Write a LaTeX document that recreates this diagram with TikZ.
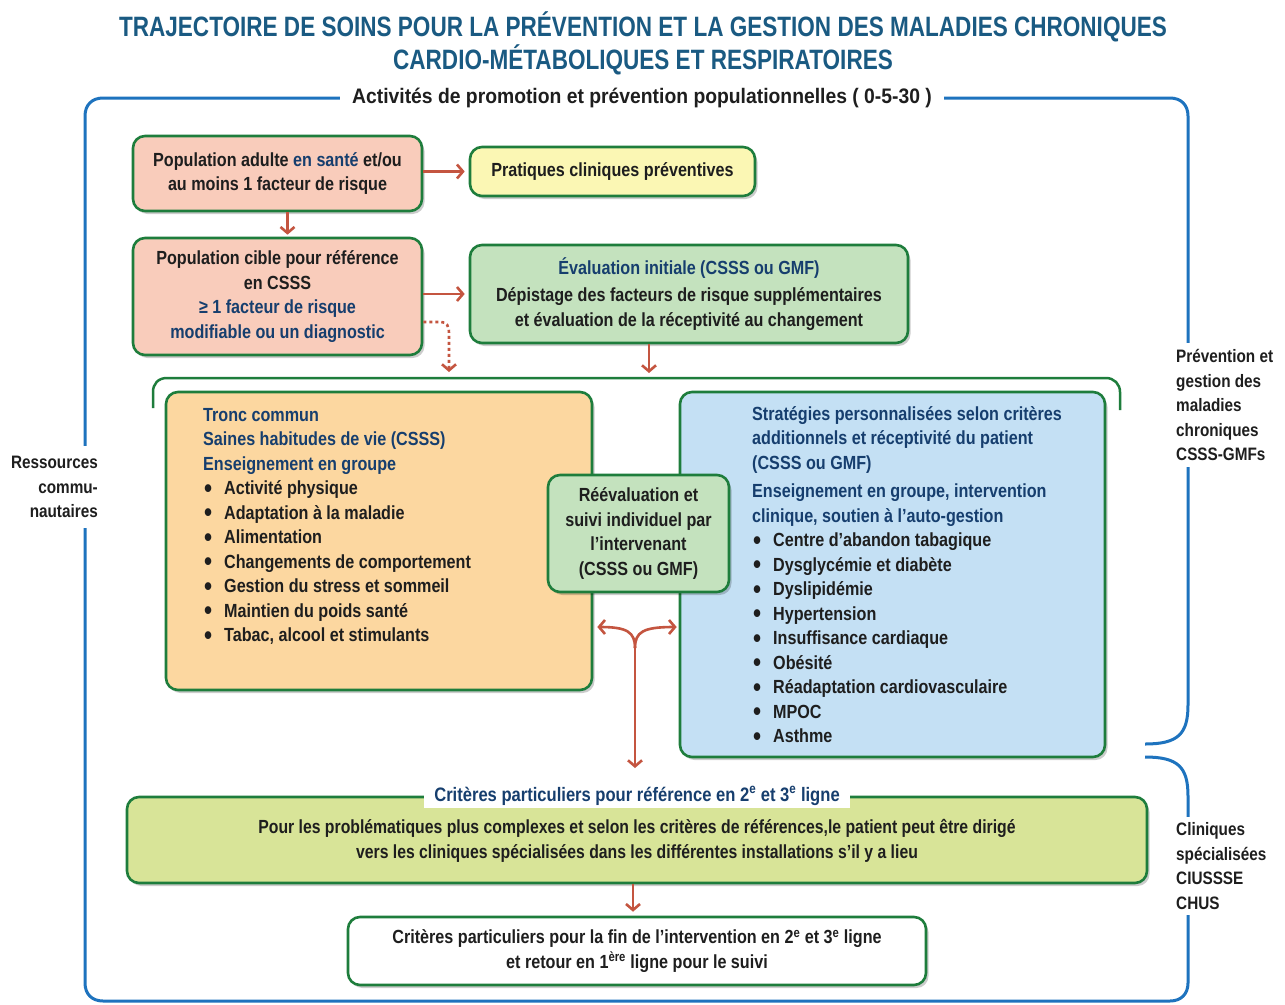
\documentclass[tikz,border=0pt]{standalone}
\usepackage{fontspec}
\setmainfont{Liberation Sans}[FakeStretch=0.85]
\newfontfamily\narrowf{Liberation Sans}[FakeStretch=0.83]
\newfontfamily\titlef{Liberation Sans}[FakeStretch=0.805]
\newfontfamily\actf{Liberation Sans}[FakeStretch=0.92]
\usetikzlibrary{arrows.meta,shadows}
\definecolor{salmon}{RGB}{249,204,187}
\definecolor{pyellow}{RGB}{251,247,180}
\definecolor{pgreen}{RGB}{196,226,190}
\definecolor{porange}{RGB}{252,215,160}
\definecolor{pblue}{RGB}{196,224,244}
\definecolor{plime}{RGB}{216,228,152}
\definecolor{gborder}{RGB}{30,125,60}
\definecolor{arrred}{RGB}{196,85,64}
\definecolor{bline}{RGB}{30,115,190}
\definecolor{tblue}{RGB}{26,90,130}
\definecolor{dblue}{RGB}{22,62,110}
\definecolor{txt}{RGB}{30,30,30}
\newcommand\boxf{\fontsize{19}{24.5}\selectfont\bfseries}
\newcommand\bul{\hspace*{1pt}\makebox[20pt][l]{\raisebox{-2.5pt}{\fontsize{27}{24}\selectfont•}}}
\begin{document}
\begin{tikzpicture}[x=1pt,y=-1pt,
  every node/.style={text=txt},
  bbox/.style={draw=gborder, line width=2.6pt, rounded corners=12pt,
    drop shadow={shadow xshift=2.5pt, shadow yshift=-3pt, fill=black, opacity=0.2},
    inner sep=0pt, align=center, font=\boxf},
  arr/.style={draw=arrred, line width=2.6pt, -{Straight Barb[length=6pt,width=14pt]}},
  blueline/.style={draw=bline, line width=3pt},
  sidetxt/.style={font=\fontsize{18}{24.5}\selectfont\bfseries, fill=white, inner sep=6pt},
  ltxt/.style={anchor=north west, align=left, inner sep=0pt, font=\boxf}
]
\useasboundingbox (0,0) rectangle (1285,1004);
\fill[white] (0,0) rectangle (1285,1004);

% title
\node[font=\titlef\fontsize{28}{33}\selectfont\bfseries, text=tblue, align=center] (title) at (643,43)
  {TRAJECTOIRE DE SOINS POUR LA PRÉVENTION ET LA GESTION DES MALADIES CHRONIQUES\\CARDIO-MÉTABOLIQUES ET RESPIRATOIRES};

% outer blue frame
\draw[blueline] (1145,744) .. controls (1178,744) and (1188,734) .. (1188,705)
  -- (1188,116) .. controls (1188,105) and (1181,98) .. (1170,98)
  -- (103,98) .. controls (92,98) and (85,105) .. (85,116)
  -- (85,983) .. controls (85,994) and (92,1001) .. (103,1001)
  -- (1170,1001) .. controls (1181,1001) and (1188,994) .. (1188,983)
  -- (1188,796) .. controls (1188,767) and (1178,757) .. (1145,757);

\node[font=\actf\fontsize{21}{24}\selectfont\bfseries, fill=white, inner sep=12pt] (act) at (642,98)
  {Activités de promotion et prévention populationnelles ( 0-5-30 )};
\node[sidetxt, align=right, anchor=east, inner ysep=10pt] (ress) at (104,487) {Ressources\\commu-\\nautaires};
\node[sidetxt, align=left, anchor=west] (prev) at (1170,405) {Prévention et\\gestion des\\maladies\\chroniques\\CSSS-GMFs};
\node[sidetxt, align=left, anchor=west] (clin) at (1170,866) {Cliniques\\spécialisées\\CIUSSSE\\CHUS};

% inner green bracket
\draw[draw=gborder, line width=2.5pt] (153,408) -- (153,392) .. controls (153,384) and (158,378) .. (167,378)
  -- (1106,378) .. controls (1114,378) and (1120,384) .. (1120,392) -- (1120,410);

% boxes
\node[bbox, fill=salmon, minimum width=289pt, minimum height=75pt] (popad) at (277.5,173.5)
  {Population adulte \textcolor{dblue}{en santé} et/ou\\au moins 1 facteur de risque};
\node[bbox, fill=pyellow, minimum width=285pt, minimum height=49pt] (prat) at (612.5,171.5)
  {Pratiques cliniques préventives};
\node[bbox, fill=salmon, minimum width=289pt, minimum height=117pt] (popcib) at (277.5,296.5)
  {Population cible pour référence\\en CSSS\\\textcolor{dblue}{≥ 1 facteur de risque}\\\textcolor{dblue}{modifiable ou un diagnostic}};
\node[bbox, fill=pgreen, minimum width=438pt, minimum height=98pt] (eval) at (689,294)
  {\textcolor{dblue}{Évaluation initiale (CSSS ou GMF)}\\[3pt]Dépistage des facteurs de risque supplémentaires\\et évaluation de la réceptivité au changement};

\node[bbox, fill=porange, minimum width=426pt, minimum height=298pt] (tronc) at (379,541) {};
\node[ltxt] (troncT) at (203,408)
  {\textcolor{dblue}{Tronc commun}\\\textcolor{dblue}{Saines habitudes de vie (CSSS)}\\\textcolor{dblue}{Enseignement en groupe}\\
   \bul Activité physique\\\bul Adaptation à la maladie\\\bul Alimentation\\\bul Changements de comportement\\
   \bul Gestion du stress et sommeil\\\bul Maintien du poids santé\\\bul Tabac, alcool et stimulants};

\node[bbox, fill=pblue, minimum width=425pt, minimum height=365pt] (strat) at (892.5,574.5) {};
\node[ltxt] (stratT) at (752,406)
  {\textcolor{dblue}{Stratégies personnalisées selon critères}\\\textcolor{dblue}{additionnels et réceptivité du patient}\\\textcolor{dblue}{(CSSS ou GMF)}\\[4pt]
   \textcolor{dblue}{Enseignement en groupe, intervention}\\\textcolor{dblue}{clinique, soutien à l’auto-gestion}\\
   \bul Centre d’abandon tabagique\\\bul Dysglycémie et diabète\\\bul Dyslipidémie\\\bul Hypertension\\
   \bul Insuffisance cardiaque\\\bul Obésité\\\bul Réadaptation cardiovasculaire\\\bul MPOC\\\bul Asthme};

\node[bbox, fill=pgreen, minimum width=181pt, minimum height=117pt] (reev) at (638.5,533.5)
  {Réévaluation et\\suivi individuel par\\l’intervenant\\(CSSS ou GMF)};

\node[bbox, fill=plime, minimum width=1020pt, minimum height=86pt] (lime) at (637,840) {};
\node[align=center, inner sep=0pt, font=\narrowf\fontsize{19}{25}\selectfont\bfseries] (limeB) at (637,841)
  {Pour les problématiques plus complexes et selon les critères de références,le patient peut être dirigé\\vers les cliniques spécialisées dans les différentes installations s’il y a lieu};
\node[fill=white, inner xsep=10pt, inner ysep=2pt, font=\fontsize{19.5}{24}\selectfont\bfseries, text=dblue] (limeT) at (637,796)
  {Critères particuliers pour référence en 2\textsuperscript{e} et 3\textsuperscript{e} ligne};

\node[bbox, fill=white, minimum width=578pt, minimum height=68pt] (final) at (637,951)
  {Critères particuliers pour la fin de l’intervention en 2\textsuperscript{e} et 3\textsuperscript{e} ligne\\et retour en 1\textsuperscript{ère} ligne pour le suivi};

% arrows
\draw[arr, shorten >=4pt] (popad.east |- prat.west) -- (prat.west);
\draw[arr, shorten >=2pt] ([xshift=10pt]popad.south) -- ([xshift=10pt]popcib.north);
\draw[arr, shorten >=4pt] (popcib.east |- eval.west) -- (eval.west);
\coordinate (dotend) at (449,372);
\draw[arr, dash pattern=on 3pt off 3pt] ([yshift=-25.5pt]popcib.east) -- (441,322) .. controls (447,322) and (449,326) .. (449,334) -- (dotend);
\coordinate (evend) at (649,373);
\draw[arr] ([xshift=-40pt]eval.south) -- (evend);
\coordinate (yj) at (635,648);
\coordinate (ystem) at (635,768);
\coordinate (yl) at (tronc.east |- 0,627);
\coordinate (yr) at (strat.west |- 0,627);
\draw[arr] (yj) .. controls (635,632) and (627,627) .. ([xshift=4pt]yl);
\draw[arr] (yj) .. controls (635,632) and (643,627) .. ([xshift=-2pt]yr);
\draw[arr] (yj) -- (ystem);
\draw[arr, shorten >=4pt] ([xshift=-4pt]lime.south) -- ([xshift=-4pt]final.north);
\end{tikzpicture}
\end{document}
